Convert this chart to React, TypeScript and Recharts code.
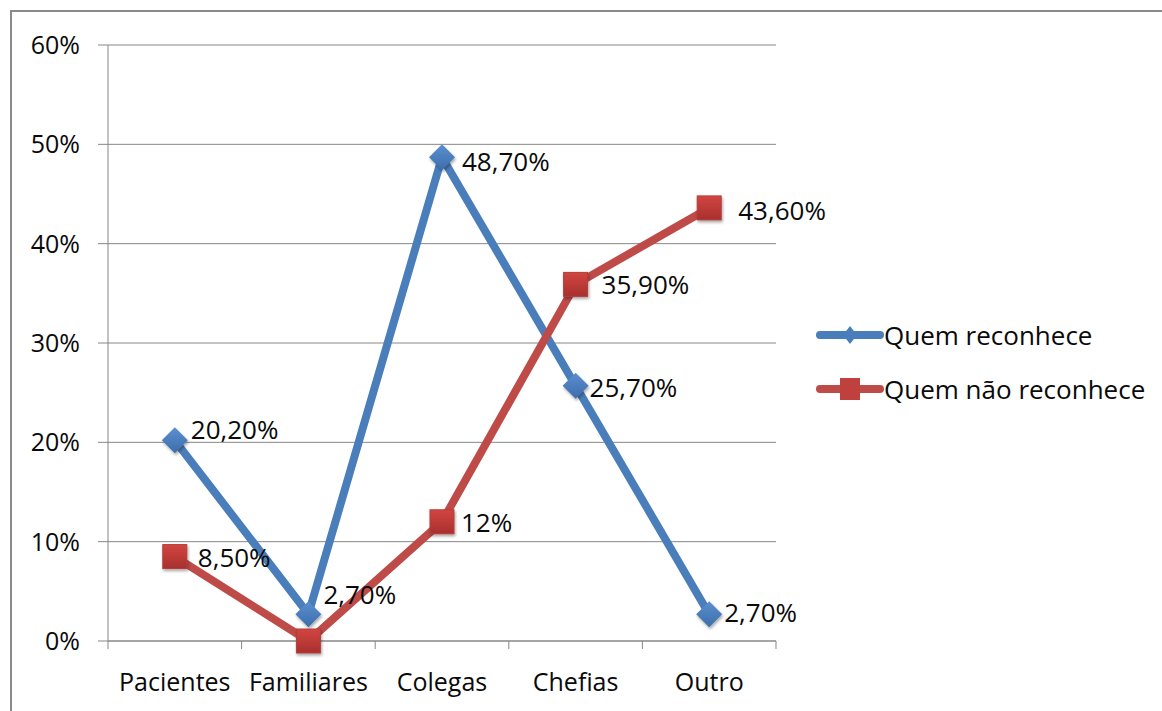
import React from "react"
import { LineChart, Line, XAxis, YAxis, CartesianGrid, LabelList } from "recharts"

const categories = ["Pacientes", "Familiares", "Colegas", "Chefias", "Outro"]
const reconhece = [20.2, 2.7, 48.7, 25.7, 2.7]
const naoReconhece = [8.5, 0, 12, 35.9, 43.6]
const yTicks = [0, 10, 20, 30, 40, 50, 60]

const seriesNames = ["Quem reconhece", "Quem não reconhece"]
const BLUE = "#4A7EBB"
const RED = "#BE4B48"
const GRID = "#878787"
const FONT = "'Open Sans', sans-serif"
const INK = "#0a0a0a"

const data = categories.map((cat, i) => ({
  cat,
  reconhece: reconhece[i],
  naoReconhece: naoReconhece[i],
}))

// label nudges (dx, dy) per point, so labels sit where Excel placed them
const blueNudge = [[16, -11], [15, -20], [20, 4], [14, 1], [15, -2]]
const redNudge = [[23, 0], [23, 0], [19, 0], [26, 0], [29, 2]]

const fmt = (v: number) =>
  Number.isInteger(v) ? `${v}%` : `${v.toFixed(2).replace(".", ",")}%`

const W = 1162
const H = 711
const HALF_BAND = 66.8

function Diamond({ cx, cy, r = 13 }: { cx: number; cy: number; r?: number }) {
  return (
    <path
      d={`M${cx},${cy - r} L${cx + r},${cy} L${cx},${cy + r} L${cx - r},${cy} Z`}
      fill="url(#gBlue)"
      filter="url(#shadow)"
    />
  )
}

function Square({ cx, cy, s = 24 }: { cx: number; cy: number; s?: number }) {
  return (
    <rect
      x={cx - s / 2}
      y={cy - s / 2}
      width={s}
      height={s}
      fill="url(#gRed)"
      stroke="#B23E3B"
      strokeWidth={1}
      filter="url(#shadow)"
    />
  )
}

function makeLabel(nudge: number[][]) {
  return (props: any) => {
    const { x, y, value, index } = props
    if (!value) return null
    const [dx, dy] = nudge[index] || [16, 0]
    return (
      <text
        x={x + dx}
        y={y + dy}
        dominantBaseline="central"
        fontSize={26}
        fontFamily={FONT}
        fill={INK}
      >
        {fmt(value)}
      </text>
    )
  }
}

function XTick(props: any) {
  const { x, y, payload, index } = props
  const last = index === categories.length - 1
  return (
    <g>
      <line x1={x - HALF_BAND} y1={y} x2={x - HALF_BAND} y2={y + 8} stroke={GRID} />
      {last && <line x1={x + HALF_BAND} y1={y} x2={x + HALF_BAND} y2={y + 8} stroke={GRID} />}
      <text
        x={x}
        y={y + 40}
        textAnchor="middle"
        dominantBaseline="central"
        fontSize={25}
        fontFamily={FONT}
        fill={INK}
      >
        {payload.value}
      </text>
    </g>
  )
}

function LegendBox() {
  const colors = [BLUE, RED]
  return (
    <div style={{ position: "absolute", left: 816, top: 317, fontFamily: FONT, fontSize: 26, color: INK }}>
      {seriesNames.map((name, i) => (
        <div key={name} style={{ display: "flex", alignItems: "center", height: 36, marginBottom: 18 }}>
          <svg width={68} height={30} style={{ overflow: "visible" }}>
            <line x1={4} y1={15} x2={64} y2={15} stroke={colors[i]} strokeWidth={8} strokeLinecap="round" />
            {i === 0 ? (
              <path d="M34,6 L41,15 L34,24 L27,15 Z" fill={BLUE} />
            ) : (
              <rect x={24} y={4} width={20} height={22} fill="#C0403D" />
            )}
          </svg>
          <span style={{ marginLeft: 0, lineHeight: "30px" }}>{name}</span>
        </div>
      ))}
    </div>
  )
}

export default function App() {
  return (
    <div
      style={{
        position: "absolute",
        left: 0,
        top: 0,
        width: W,
        height: H,
        overflow: "hidden",
        background: "#fff",
      }}
    >
      <div
        style={{
          position: "absolute",
          left: 10,
          top: 10,
          width: W,
          height: H,
          borderTop: "2px solid #8a8a8a",
          borderLeft: "2px solid #8a8a8a",
        }}
      />
      <div style={{ position: "absolute", left: 0, top: 0 }}>
        <LineChart width={W} height={H} data={data} margin={{ top: 45, right: 386, bottom: 30, left: 0 }}>
          <defs>
            <linearGradient id="gBlue" x1="0" y1="0" x2="0" y2="1">
              <stop offset="0%" stopColor="#5B8FD0" />
              <stop offset="100%" stopColor="#3D6DAA" />
            </linearGradient>
            <linearGradient id="gRed" x1="0" y1="0" x2="0" y2="1">
              <stop offset="0%" stopColor="#D24542" />
              <stop offset="100%" stopColor="#A8302E" />
            </linearGradient>
            <filter id="shadow" x="-50%" y="-50%" width="200%" height="200%">
              <feDropShadow dx="1" dy="2" stdDeviation="1.5" floodColor="#000" floodOpacity="0.35" />
            </filter>
          </defs>
          <CartesianGrid vertical={false} stroke={GRID} strokeWidth={1} />
          <XAxis
            dataKey="cat"
            height={40}
            padding={{ left: HALF_BAND, right: HALF_BAND }}
            axisLine={{ stroke: GRID }}
            tickLine={false}
            tickSize={0}
            tickMargin={0}
            tick={<XTick />}
            interval={0}
          />
          <YAxis
            width={108}
            domain={[0, 60]}
            ticks={yTicks}
            tickFormatter={(v: number) => `${v}%`}
            axisLine={{ stroke: GRID }}
            tickLine={{ stroke: GRID }}
            tickSize={10}
            tickMargin={18}
            tick={{ fontSize: 25, fontFamily: FONT, fill: INK }}
          />
          <Line
            dataKey="reconhece"
            name={seriesNames[0]}
            stroke={BLUE}
            strokeWidth={8}
            isAnimationActive={false}
            dot={(p: any) => <Diamond key={`b${p.index}`} cx={p.cx} cy={p.cy} />}
            activeDot={false}
          >
            <LabelList dataKey="reconhece" content={makeLabel(blueNudge)} />
          </Line>
          <Line
            dataKey="naoReconhece"
            name={seriesNames[1]}
            stroke={RED}
            strokeWidth={8}
            isAnimationActive={false}
            dot={(p: any) => <Square key={`r${p.index}`} cx={p.cx} cy={p.cy} />}
            activeDot={false}
          >
            <LabelList dataKey="naoReconhece" content={makeLabel(redNudge)} />
          </Line>
        </LineChart>
      </div>
      <LegendBox />
    </div>
  )
}
